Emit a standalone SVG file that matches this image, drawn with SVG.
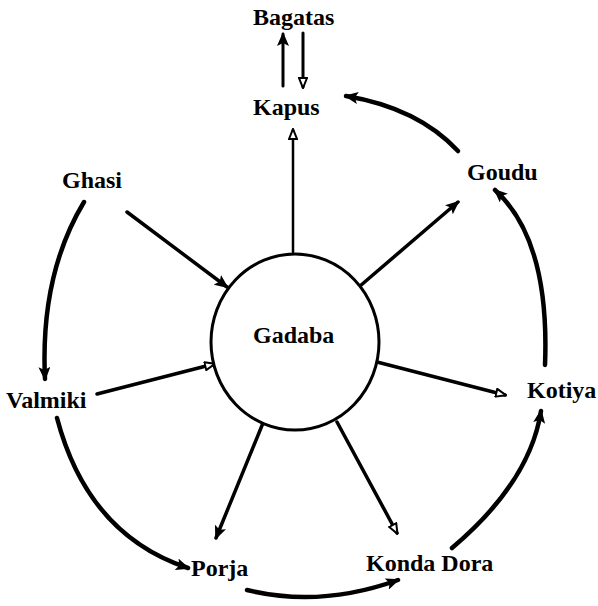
<svg xmlns="http://www.w3.org/2000/svg" width="598" height="606" viewBox="0 0 598 606">
<style>
.lbl{font-family:"Liberation Serif","Times New Roman",serif;font-weight:bold;font-size:24px;fill:#000}
.c{fill:none;stroke:#000;stroke-linecap:round}
.thin{stroke-width:3}
.mid{stroke-width:3.5}
.thick{stroke-width:4.5}
</style>
<defs>
<marker id="af" viewBox="0 0 14 12" refX="12" refY="6" markerWidth="14" markerHeight="12" markerUnits="userSpaceOnUse" orient="auto">
<path d="M0,0 L14,6 L0,12 L3,6 z" fill="#000"/>
</marker>
<marker id="ah" viewBox="0 0 12 10" refX="10" refY="5" markerWidth="12" markerHeight="10" markerUnits="userSpaceOnUse" orient="auto">
<path d="M1,1 L11,5 L1,9 z" fill="#fff" stroke="#000" stroke-width="2"/>
</marker>
</defs>
<rect width="598" height="606" fill="#fff"/>
<g id="connectors">
<line class="c thin" x1="283" y1="86" x2="283" y2="34" marker-end="url(#af)"/>
<line class="c thin" x1="303" y1="33" x2="303" y2="87" marker-end="url(#ah)"/>
<line class="c" stroke-width="2.5" x1="293" y1="252" x2="293" y2="130" marker-end="url(#ah)"/>
<line class="c mid" x1="127" y1="212" x2="227" y2="287" marker-end="url(#af)"/>
<line class="c mid" x1="360" y1="286" x2="458" y2="202" marker-end="url(#af)"/>
<line class="c mid" x1="97" y1="394" x2="214" y2="364" marker-end="url(#ah)"/>
<line class="c mid" x1="377" y1="362" x2="505" y2="395" marker-end="url(#ah)"/>
<line class="c mid" x1="263" y1="423" x2="216" y2="538" marker-end="url(#af)"/>
<line class="c mid" x1="337" y1="422" x2="397" y2="533" marker-end="url(#ah)"/>
<path class="c thick" d="M84,202 Q40,275 45,379" marker-end="url(#af)"/>
<path class="c thick" d="M57,418 Q88,535 188,568" marker-end="url(#af)"/>
<path class="c thick" d="M247,590 Q320,608 398,580" marker-end="url(#af)"/>
<path class="c thick" d="M452,548 Q530,482 541,411" marker-end="url(#af)"/>
<path class="c thick" d="M545,365 Q550,240 495,190" marker-end="url(#af)"/>
<path class="c thick" d="M458,151 Q418,108 346,96" marker-end="url(#af)"/>
</g>
<g id="bagatas"><text class="lbl" x="253" y="25">Bagatas</text></g>
<g id="kapus"><text class="lbl" x="253" y="115">Kapus</text></g>
<g id="ghasi"><text class="lbl" x="62" y="188">Ghasi</text></g>
<g id="goudu"><text class="lbl" x="467" y="180">Goudu</text></g>
<g id="gadaba"><ellipse cx="295" cy="342" rx="84" ry="88" fill="#fff" stroke="#000" stroke-width="3"/><text class="lbl" x="253" y="343">Gadaba</text></g>
<g id="valmiki"><text class="lbl" x="6" y="408">Valmiki</text></g>
<g id="kotiya"><text class="lbl" x="527" y="398">Kotiya</text></g>
<g id="porja"><text class="lbl" x="191" y="576">Porja</text></g>
<g id="konda-dora"><text class="lbl" x="366" y="571">Konda Dora</text></g>
</svg>
